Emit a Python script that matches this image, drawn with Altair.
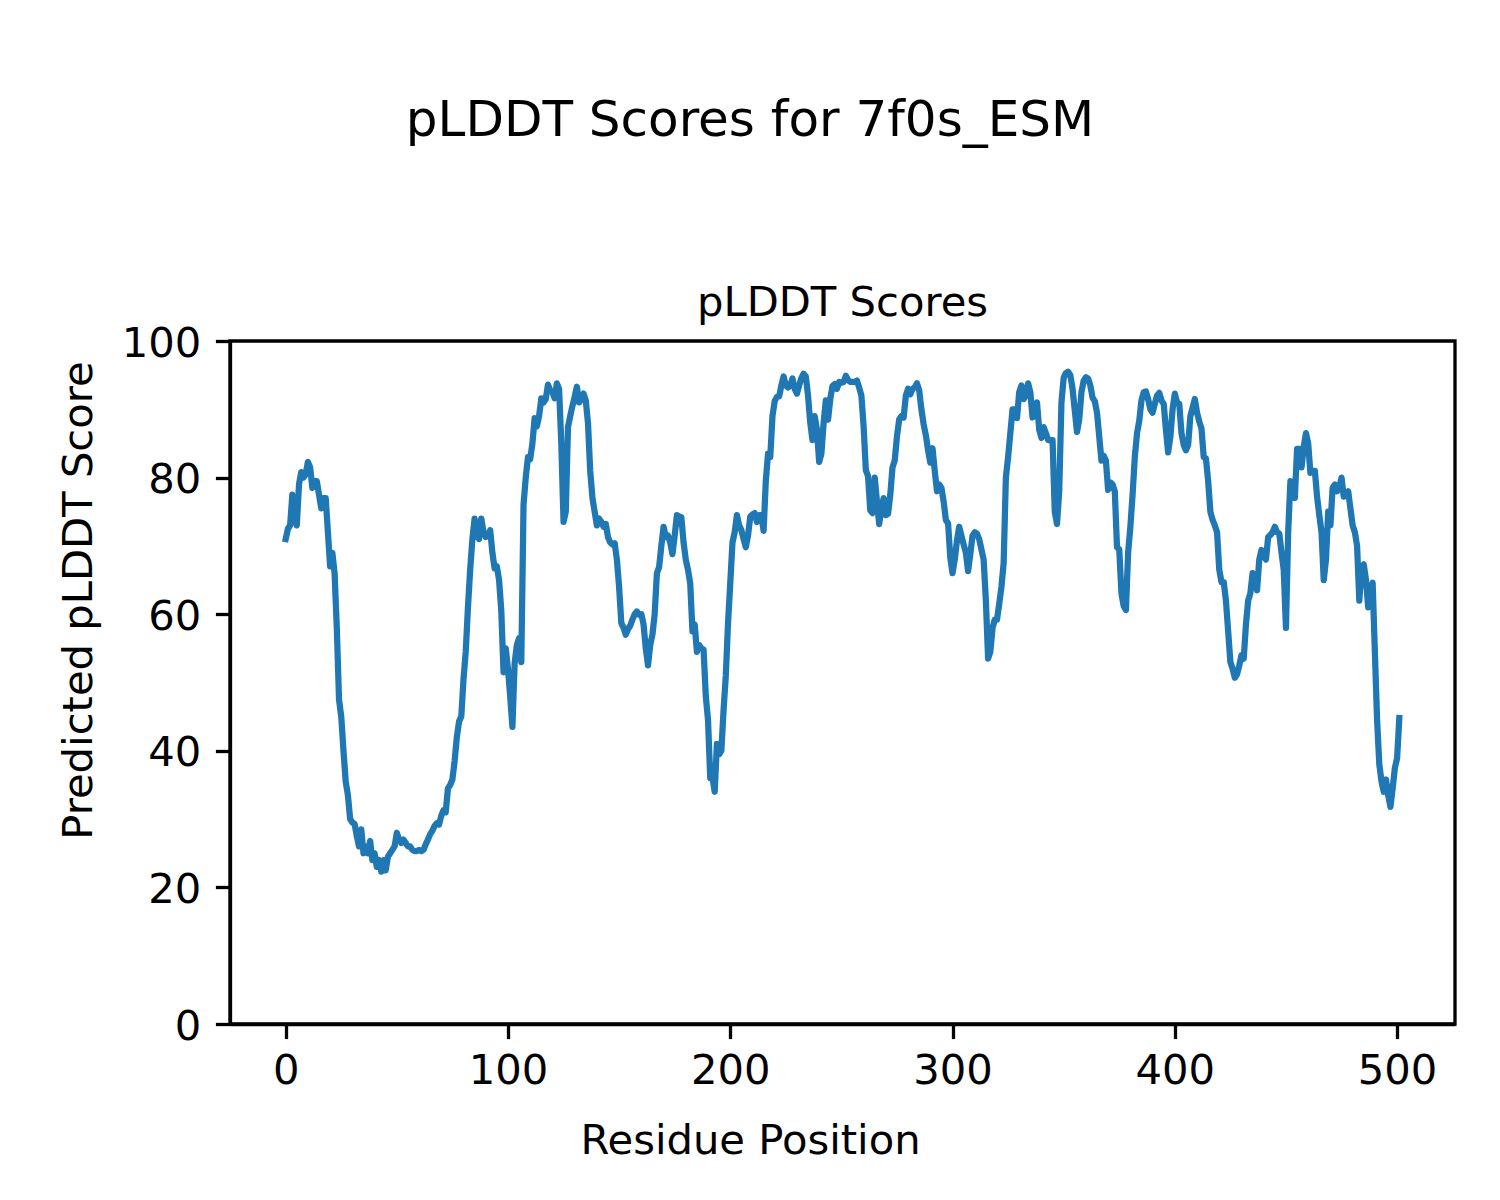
import altair as alt
import pandas as pd

# pLDDT per residue (index = residue position)
plddt = [
    71, 72.5, 73, 77.5, 74, 73, 79, 80.8, 80, 80.5,
    82.3, 81.5, 78.5, 79.5, 79.5, 77.5, 75.5, 77, 77, 72,
    67, 69, 66, 58, 47.5, 45, 40, 35.5, 33.5, 30,
    29.5, 29.3, 27.5, 26, 28.5, 25, 26, 25, 26.8, 24,
    25, 23, 24, 22.3, 24, 22.5, 24.5, 25, 25.5, 26,
    28, 27, 26.5, 27, 26.5, 26, 26, 25.5, 25.3, 25.3,
    25.5, 25.3, 25.5, 26.3, 27, 27.8, 28.3, 29, 29.4, 29.2,
    30.5, 31.3, 31, 34.5, 35, 35.8, 38.5, 42, 44.3, 45,
    50.5, 54.5, 61, 66.5, 71, 74, 71.5, 71, 74, 72,
    71.3, 71.5, 72.3, 69, 66.7, 67, 65, 60.5, 51.5, 55,
    52, 48, 43.5, 52.8, 55.5, 56.5, 53, 76, 80, 83,
    82.7, 85, 88.7, 87.5, 89, 91.6, 91, 91.5, 93.6, 92.8,
    92.5, 91.6, 93.8, 93, 85, 73.5, 75, 87.4, 89, 90.5,
    91.8, 93.3, 91, 91.5, 92.3, 91.3, 88, 81, 77, 75,
    73, 74, 73.5, 72.8, 73.2, 71.3, 70.5, 70.2, 70.4, 68,
    64, 58.7, 58, 57, 57.8, 58.3, 59.2, 60, 60.4, 59.9,
    60, 58.5, 55, 52.5, 55.5, 57, 60, 66, 66.9, 70,
    72.8, 71.3, 71.5, 70.5, 68.8, 71.5, 74.5, 74.3, 74.2, 70.5,
    68, 66.5, 64.5, 57.5, 58.5, 54.5, 55.5, 55, 54.8, 48,
    44.5, 36, 36.2, 34, 41, 39.5, 40, 46, 51, 58.7,
    64.5, 70.5, 72, 74.5, 73, 72.3, 71, 69.8, 71.5, 74.3,
    74.6, 74.8, 73.5, 74.5, 74.5, 72.2, 79.5, 83.5, 83, 89,
    91.2, 91.8, 91.9, 93.5, 94.8, 93.5, 93.2, 93.5, 94.5, 93,
    92.3, 93.5, 94.6, 95.2, 94.8, 92, 88, 85.5, 89, 87,
    82.3, 83.5, 88, 91.3, 88.5, 91.5, 93.4, 93.7, 93, 94,
    93.9, 94, 94.9, 94.3, 94, 94, 94, 94.2, 93.2, 92,
    87.5, 81.1, 80.2, 75.2, 74.8, 80, 76.5, 73.2, 75.5, 77,
    74.5, 74.7, 77.5, 81.5, 82.5, 86, 88.5, 89, 88.8, 92,
    93, 92.2, 93, 93.2, 93.8, 92.8, 90, 87.8, 86.2, 84,
    82.2, 84.3, 81, 78, 79, 78.5, 76.5, 73.8, 73.3, 68.3,
    66, 68, 70.8, 72.8, 71.5, 70.2, 69, 66.3, 68.8, 71.5,
    72, 71.8, 71, 69.5, 68, 62, 53.5, 54.5, 58, 59.2,
    59.2, 61.5, 64, 67.5, 80, 83, 86.5, 90, 90, 88.7,
    92.5, 93.5, 91.5, 92, 93.8, 92.5, 88.8, 90, 91, 87,
    85.8, 87.4, 86.5, 85.5, 85.5, 85.5, 75, 73.2, 78, 91,
    94.6, 95.3, 95.5, 95, 93, 89.8, 86.7, 88.5, 92.5, 94.2,
    94.7, 94.5, 93.5, 91.7, 91.2, 89.5, 86, 82.5, 83.2, 82.5,
    78.2, 79.3, 79, 78, 69.8, 69.5, 63, 61.2, 60.6, 69,
    72.8, 77.5, 83, 86.5, 88.3, 91.3, 92.5, 92.6, 91.5, 90,
    89.5, 90.8, 92, 92.4, 91.3, 90.8, 87, 83.7, 86, 90,
    92.3, 91, 90.8, 86.5, 84.8, 84, 84.8, 89, 90.2, 91.5,
    89.5, 88.2, 87.2, 83, 82.8, 79.5, 75, 73.8, 73, 72,
    66.5, 64.7, 64.7, 62, 57.5, 53, 52, 50.7, 51.2, 52.5,
    54, 53.5, 58.5, 62, 63.1, 66, 65.2, 63.5, 68, 69.4,
    68.5, 68, 71.3, 71.6, 72, 72.8, 72, 71.8, 69, 66.5,
    58, 72, 79.5, 78, 77, 84.2, 84.2, 81.5, 84.5, 86.5,
    85, 80.7, 81, 81, 77.2, 74.5, 72, 65, 68, 75,
    73, 78.5, 79, 78, 78.5, 80, 77.2, 77.5, 78, 75.5,
    73, 72, 70, 62, 66.8, 67.3, 65, 61, 63.5, 64.6,
    54.5, 44.5, 38, 35.5, 34, 35.8, 33.5, 31.8, 34.5, 37.5,
    38.9, 44.8,
]
residues = list(range(len(plddt)))

x_ticks = [0, 100, 200, 300, 400, 500]
y_ticks = [0, 20, 40, 60, 80, 100]

suptitle = "pLDDT Scores for 7f0s_ESM"
axes_title = "pLDDT Scores"
x_label = "Residue Position"
y_label = "Predicted pLDDT Score"

FONT = "DejaVu Sans"
FS = 41.7

df = pd.DataFrame({"residue": residues, "plddt": plddt})
n = len(plddt) - 1
pad = 0.05 * n

axis_common = dict(
    labelFont=FONT, labelFontSize=FS, labelColor="black",
    titleFont=FONT, titleFontSize=FS, titleColor="black", titleFontWeight="normal",
    tickColor="black", tickWidth=3.3, tickSize=14.6,
    domainColor="black", domainWidth=3.3, grid=False, format="d",
)

line = alt.Chart(df).mark_line(
    color="#1f77b4", strokeWidth=6.25, strokeJoin="round", strokeCap="square"
).encode(
    x=alt.X(
        "residue:Q",
        scale=alt.Scale(domain=[-pad, n + pad], nice=False, zero=False),
        axis=alt.Axis(
            values=x_ticks, title=x_label, labelPadding=12, labelFlush=False,
            titleX=520, titleY=129, titleAlign="center", titleBaseline="alphabetic",
            titleAnchor="start",
            **axis_common,
        ),
    ),
    y=alt.Y(
        "plddt:Q",
        scale=alt.Scale(domain=[0, 100], nice=False, zero=False),
        axis=alt.Axis(
            values=y_ticks, title=y_label, labelPadding=14.6, labelOffset=2,
            titleX=-139, titleY=259, titleAngle=270, titleAlign="center",
            titleBaseline="alphabetic", titleAnchor="start",
            **axis_common,
        ),
    ),
)

sup = alt.Chart(pd.DataFrame({"t": [suptitle]})).mark_text(
    font=FONT, fontSize=50, baseline="alphabetic", align="center", color="black"
).encode(text="t:N", x=alt.value(520), y=alt.value(-205))

sub = alt.Chart(pd.DataFrame({"t": [axes_title]})).mark_text(
    font=FONT, fontSize=FS, baseline="alphabetic", align="center", color="black"
).encode(text="t:N", x=alt.value(612.5), y=alt.value(-25))

chart = alt.layer(line, sup, sub).properties(
    width=1225,
    height=683,
    autosize=alt.AutoSizeParams(type="none"),
    padding={"left": 222, "top": 333, "right": 37, "bottom": 160},
).configure_view(stroke="black", strokeWidth=3.3)

chart.save("out.html", embed_options={"renderer": "svg", "actions": False})
